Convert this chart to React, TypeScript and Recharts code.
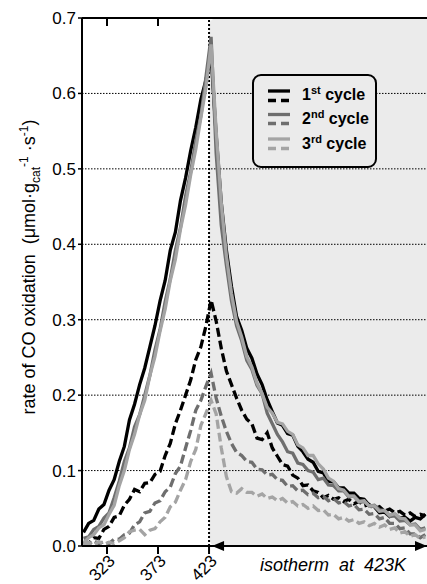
import React from 'react';
import {
  LineChart,
  Line,
  XAxis,
  YAxis,
  CartesianGrid,
  ReferenceArea,
  ReferenceLine,
  Legend,
} from 'recharts';

const FONT = '"Liberation Sans", Arial, Helvetica, sans-serif';

// x position: temperature ramp up to 423 K, then the isotherm continues on the same axis
const xValues = [
  300, 305, 310, 315, 320, 325, 330, 335, 340, 345, 350, 355, 360, 365, 370, 375, 380, 385, 390, 395,
  400, 405, 410, 415, 420, 425, 430, 435, 440, 445, 450, 455, 460, 465, 470, 475, 480, 485, 490, 495,
  500, 505, 510, 515, 520, 525, 530, 535, 540, 545, 550, 555, 560, 565, 570, 575, 580, 585, 590, 595,
  600, 605, 610, 615, 620, 625, 630, 635,
];

// 1st cycle, solid
const cycle1Solid = [
  0.018, 0.030, 0.034, 0.049, 0.055, 0.074, 0.088, 0.112, 0.132, 0.167, 0.188, 0.214, 0.236, 0.264, 0.292, 0.325, 0.352, 0.392, 0.416, 0.458,
  0.488, 0.524, 0.555, 0.592, 0.618, 0.650,
  0.545, 0.455, 0.392, 0.344, 0.304, 0.286, 0.262, 0.249, 0.228, 0.214, 0.194, 0.178, 0.163, 0.160, 0.149, 0.147, 0.132, 0.125, 0.115, 0.111,
  0.099, 0.097, 0.086, 0.085, 0.077, 0.077, 0.070, 0.070, 0.063, 0.062, 0.054, 0.052, 0.044, 0.045, 0.039, 0.042, 0.037, 0.038, 0.033, 0.038,
  0.036, 0.042,
];
// 1st cycle, dashed
const cycle1Dashed = [
  0.006, 0.003, 0.011, 0.010, 0.022, 0.026, 0.038, 0.040, 0.054, 0.062, 0.075, 0.072, 0.083, 0.084, 0.095, 0.099, 0.120, 0.136, 0.162, 0.180,
  0.200, 0.220, 0.247, 0.264, 0.292, 0.326,
  0.298, 0.262, 0.232, 0.214, 0.196, 0.180, 0.168, 0.162, 0.143, 0.141, 0.150, 0.130, 0.119, 0.108, 0.106, 0.094, 0.090, 0.080, 0.081, 0.073,
  0.071, 0.064, 0.067, 0.062, 0.064, 0.059, 0.062, 0.056, 0.059, 0.053, 0.055, 0.049, 0.052, 0.046, 0.049, 0.044, 0.046, 0.041, 0.044, 0.039,
  0.042, 0.040,
];
// 2nd cycle, solid
const cycle2Solid = [
  0.010, 0.012, 0.022, 0.026, 0.037, 0.044, 0.064, 0.086, 0.112, 0.130, 0.158, 0.174, 0.200, 0.226, 0.260, 0.287, 0.324, 0.354, 0.392, 0.422,
  0.464, 0.496, 0.537, 0.570, 0.622, 0.675,
  0.520, 0.425, 0.372, 0.325, 0.292, 0.272, 0.246, 0.234, 0.213, 0.202, 0.176, 0.162, 0.148, 0.138, 0.125, 0.123, 0.110, 0.108, 0.100, 0.098,
  0.088, 0.090, 0.081, 0.080, 0.073, 0.073, 0.065, 0.066, 0.058, 0.059, 0.053, 0.054, 0.048, 0.047, 0.039, 0.040, 0.033, 0.034, 0.028, 0.029,
  0.022, 0.024,
];
// 2nd cycle, dashed
const cycle2Dashed = [
  0.004, 0.002, 0.007, 0.003, 0.006, 0.003, 0.009, 0.009, 0.015, 0.017, 0.028, 0.032, 0.044, 0.046, 0.057, 0.060, 0.072, 0.078, 0.096, 0.106,
  0.130, 0.153, 0.180, 0.193, 0.212, 0.229,
  0.196, 0.172, 0.152, 0.136, 0.124, 0.120, 0.112, 0.111, 0.102, 0.101, 0.094, 0.095, 0.088, 0.087, 0.079, 0.080, 0.073, 0.074, 0.068, 0.070,
  0.064, 0.066, 0.060, 0.063, 0.057, 0.059, 0.053, 0.055, 0.048, 0.049, 0.042, 0.043, 0.036, 0.038, 0.030, 0.030, 0.023, 0.024, 0.016, 0.016,
  0.011, 0.015,
];
// 3rd cycle, solid
const cycle3Solid = [
  0.004, 0.011, 0.015, 0.024, 0.028, 0.042, 0.054, 0.080, 0.100, 0.128, 0.148, 0.174, 0.193, 0.226, 0.251, 0.285, 0.314, 0.352, 0.380, 0.420,
  0.452, 0.492, 0.526, 0.568, 0.608, 0.665,
  0.550, 0.455, 0.385, 0.335, 0.298, 0.277, 0.251, 0.237, 0.216, 0.202, 0.184, 0.176, 0.164, 0.162, 0.152, 0.148, 0.134, 0.130, 0.120, 0.120,
  0.109, 0.102, 0.090, 0.086, 0.076, 0.074, 0.066, 0.066, 0.059, 0.060, 0.053, 0.053, 0.046, 0.047, 0.041, 0.043, 0.037, 0.036, 0.028, 0.028,
  0.020, 0.022,
];
// 3rd cycle, dashed
const cycle3Dashed = [
  0.002, 0.005, 0.001, 0.006, 0.002, 0.005, 0.003, 0.007, 0.011, 0.019, 0.021, 0.022, 0.015, 0.021, 0.023, 0.032, 0.038, 0.052, 0.058, 0.074,
  0.088, 0.112, 0.128, 0.160, 0.176, 0.193,
  0.175, 0.130, 0.092, 0.072, 0.070, 0.076, 0.071, 0.071, 0.066, 0.069, 0.063, 0.065, 0.060, 0.063, 0.057, 0.059, 0.053, 0.055, 0.050, 0.053,
  0.047, 0.048, 0.041, 0.042, 0.036, 0.038, 0.033, 0.035, 0.030, 0.032, 0.027, 0.030, 0.025, 0.028, 0.022, 0.024, 0.017, 0.019, 0.013, 0.015,
  0.010, 0.012,
];

const xTicks = [323, 373, 423];
const xTopTicks = [323, 373];
const yTicks = [0, 0.1, 0.2, 0.3, 0.4, 0.5, 0.6, 0.7];
const yMinorTicks = [0.05, 0.15, 0.25, 0.35, 0.45, 0.55, 0.65];
const X_MIN = 298.5;
const X_MAX = 636.6;
const ISO_T = 423;

const legendLabels = [
  { n: '1', sup: 'st', color: '#000000' },
  { n: '2', sup: 'nd', color: '#6e6e6e' },
  { n: '3', sup: 'rd', color: '#a4a4a4' },
];

const data = xValues.map((x, i) => ({
  x,
  c1s: cycle1Solid[i],
  c1d: cycle1Dashed[i],
  c2s: cycle2Solid[i],
  c2d: cycle2Dashed[i],
  c3s: cycle3Solid[i],
  c3d: cycle3Dashed[i],
}));

const XTick = (props: any) => {
  const { x, y, payload } = props;
  const px = x + 9;
  const py = y + 6;
  return (
    <text
      x={px}
      y={py}
      transform={`rotate(-45 ${px} ${py})`}
      textAnchor="end"
      fontSize={17}
      fontFamily={FONT}
      fill="#000"
    >
      {payload.value}
    </text>
  );
};

const YLabel = () => {
  const cx = 35;
  const cy = 267;
  return (
    <text
      transform={`translate(${cx},${cy}) rotate(-90)`}
      textAnchor="middle"
      fontSize={18}
      fontFamily={FONT}
      fill="#000"
      style={{ whiteSpace: 'pre' }}
    >
      {'rate of CO oxidation  (\u03bcmol\u00b7g'}
      <tspan dy={5} fontSize={12}>cat</tspan>
      <tspan dy={-12} fontSize={12}>-1</tspan>
      <tspan dy={7}>{' \u00b7s'}</tspan>
      <tspan dy={-7} fontSize={12}>-1</tspan>
      <tspan dy={7}>{')'}</tspan>
    </text>
  );
};

const ShadeShape = (props: any) => {
  const { x, y, width, height } = props;
  const r = 9;
  const d = `M${x + r},${y} L${x + width},${y} L${x + width},${y + height} L${x + r},${y + height} Q${x},${y + height} ${x},${y + height - r} L${x},${y + r} Q${x},${y} ${x + r},${y} Z`;
  return <path d={d} fill="rgba(0,0,0,0.08)" stroke="none" />;
};

const IsoArrow = (props: any) => {
  const { x1, y1, x2, y2 } = props;
  return (
    <g>
      <line x1={x1} y1={y1} x2={x2} y2={y2} stroke="#000" strokeWidth={2} />
      <polygon points={`${x1 + 3},${y1} ${x1 + 15},${y1 - 5} ${x1 + 15},${y1 + 5}`} fill="#000" />
      <polygon points={`${x2},${y2} ${x2 - 12},${y2 - 5} ${x2 - 12},${y2 + 5}`} fill="#000" />
      <text
        x={(x1 + x2) / 2 + 15}
        y={y1 + 25}
        textAnchor="middle"
        fontStyle="italic"
        fontSize={18}
        fontFamily={FONT}
        fill="#000"
        style={{ whiteSpace: 'pre' }}
      >
        {'isotherm  at  423K'}
      </text>
    </g>
  );
};

const LegendBox = () => {
  const rows = [
    { solid: 15, dashed: 24.5, text: 23.5 },
    { solid: 38.5, dashed: 47.5, text: 48 },
    { solid: 63, dashed: 72.5, text: 72.5 },
  ];
  return (
    <div
      style={{
        width: 121,
        height: 90,
        border: '2px solid #000',
        borderRadius: 9,
        background: '#ebebeb',
      }}
    >
      <svg width={121} height={90} style={{ display: 'block' }}>
        {legendLabels.map((l, i) => (
          <g key={l.n}>
            <line x1={14} x2={36} y1={rows[i].solid} y2={rows[i].solid} stroke={l.color} strokeWidth={3.3} />
            <line
              x1={14}
              x2={36}
              y1={rows[i].dashed}
              y2={rows[i].dashed}
              stroke={l.color}
              strokeWidth={3.3}
              strokeDasharray="8 5"
            />
            <text
              x={48}
              y={rows[i].text}
              fontSize={16}
              fontWeight="bold"
              fontFamily={FONT}
              fill="#000"
              style={{ whiteSpace: 'pre' }}
            >
              {l.n}
              <tspan dy={-6} fontSize={11}>{l.sup}</tspan>
              <tspan dy={6}>{' cycle'}</tspan>
            </text>
          </g>
        ))}
      </svg>
    </div>
  );
};

const series = [
  { key: 'c1s', color: '#000000', dash: undefined },
  { key: 'c1d', color: '#000000', dash: '9 4' },
  { key: 'c2s', color: '#6e6e6e', dash: undefined },
  { key: 'c2d', color: '#6e6e6e', dash: '9 4' },
  { key: 'c3s', color: '#a4a4a4', dash: undefined },
  { key: 'c3d', color: '#a4a4a4', dash: '9 4' },
];

export default function App() {
  return (
    <div
      style={{
        position: 'absolute',
        left: 0,
        top: 0,
        width: 427,
        height: 584,
        overflow: 'hidden',
        background: '#fff',
      }}
    >
      <LineChart width={427} height={584} data={data} margin={{ top: 18, right: 0, bottom: 0, left: 0 }}>
        <ReferenceArea
          x1={ISO_T}
          x2={X_MAX}
          y1={0}
          y2={0.7}
          shape={<ShadeShape />}
          ifOverflow="visible"
        />
        <CartesianGrid vertical={false} stroke="#000" strokeDasharray="1.5 1.5" strokeWidth={1} />
        <XAxis
          dataKey="x"
          type="number"
          domain={[X_MIN, X_MAX]}
          allowDataOverflow
          ticks={xTicks}
          interval={0}
          height={38}
          tickSize={8}
          axisLine={{ stroke: '#000', strokeWidth: 2 }}
          tickLine={{ stroke: '#000', strokeWidth: 2 }}
          tick={<XTick />}
        />
        <XAxis
          xAxisId="top"
          orientation="top"
          dataKey="x"
          type="number"
          domain={[X_MIN, X_MAX]}
          allowDataOverflow
          ticks={xTopTicks}
          interval={0}
          height={1}
          mirror
          tickSize={8}
          axisLine={{ stroke: '#000', strokeWidth: 2 }}
          tickLine={{ stroke: '#000', strokeWidth: 2 }}
          tickFormatter={() => ''}
        />
        <YAxis
          type="number"
          domain={[0, 0.7]}
          ticks={yTicks}
          interval={0}
          width={82}
          tickSize={4}
          tickMargin={2}
          tickFormatter={(v: number) => v.toFixed(1)}
          tick={{ fontSize: 17, fontFamily: FONT, fill: '#000' }}
          axisLine={{ stroke: '#000', strokeWidth: 2 }}
          tickLine={{ stroke: '#000', strokeWidth: 1.5 }}
          label={<YLabel />}
        />
        <YAxis
          yAxisId="minor"
          type="number"
          domain={[0, 0.7]}
          ticks={yMinorTicks}
          interval={0}
          width={1}
          mirror
          tickSize={4}
          axisLine={false}
          tickLine={{ stroke: '#000', strokeWidth: 1.5 }}
          tickFormatter={() => ''}
        />
        <ReferenceLine x={ISO_T} stroke="#000" strokeWidth={2} strokeDasharray="2 2" />
        {series.map((s) => (
          <Line
            key={s.key}
            dataKey={s.key}
            type="linear"
            stroke={s.color}
            strokeWidth={3.3}
            strokeDasharray={s.dash}
            dot={false}
            activeDot={false}
            isAnimationActive={false}
            legendType="none"
          />
        ))}
        <ReferenceLine
          segment={[
            { x: ISO_T, y: 0 },
            { x: X_MAX, y: 0 },
          ]}
          ifOverflow="visible"
          shape={<IsoArrow />}
        />
        <Legend
          layout="horizontal"
          verticalAlign="middle"
          align="center"
          content={<LegendBox />}
          wrapperStyle={{ position: 'absolute', left: 252, top: 74, width: 125, height: 94 }}
        />
      </LineChart>
    </div>
  );
}
